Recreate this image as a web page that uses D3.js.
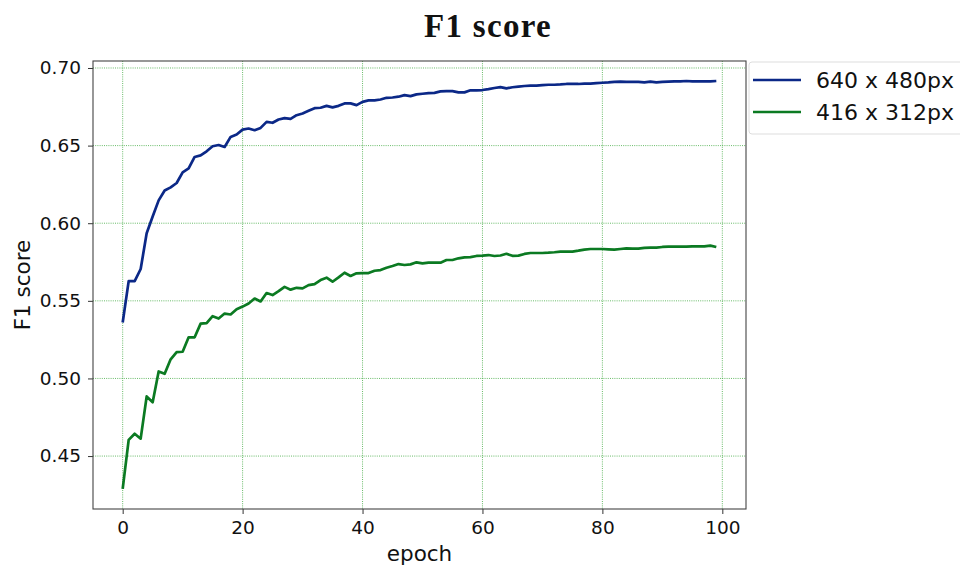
<!DOCTYPE html>
<html>
<head>
<meta charset="utf-8">
<script src="https://cdn.jsdelivr.net/npm/d3@7/dist/d3.min.js"></script>
<style>
  html, body { margin: 0; padding: 0; background: #fff; }
  svg { display: block; }
</style>
</head>
<body>
<div id="chart"></div>
<script>
// Series values (epochs 0..99)
const seriesNames = ["640 x 480px", "416 x 312px"];
const seriesColors = ["#0b2887", "#0b7a22"];

const f1Large = [
  0.536, 0.5627, 0.5627, 0.5705, 0.5935, 0.6043, 0.6147, 0.6211, 0.6231, 0.6259,
  0.6328, 0.6353, 0.6427, 0.6437, 0.6463, 0.6496, 0.6504, 0.6491, 0.6556, 0.6571,
  0.6603, 0.661, 0.6599, 0.6614, 0.6653, 0.6647, 0.6668, 0.6677, 0.6672, 0.6696,
  0.6707, 0.6724, 0.6741, 0.6744, 0.6756, 0.6746, 0.6756, 0.6772, 0.6772, 0.6761,
  0.6782, 0.6791, 0.6791, 0.6797, 0.6808, 0.681, 0.6815, 0.6825, 0.6819, 0.683,
  0.6834, 0.6838, 0.684, 0.6849, 0.6851, 0.6851, 0.6843, 0.6843, 0.6856, 0.6856,
  0.6858, 0.6864, 0.6871, 0.6877, 0.6869, 0.6876, 0.688, 0.6884, 0.6886, 0.6886,
  0.689, 0.6892, 0.6892, 0.6894, 0.6897, 0.6897, 0.6897, 0.6899, 0.6899, 0.6903,
  0.6905, 0.6907, 0.691, 0.6912, 0.691, 0.691, 0.691, 0.6907, 0.6912, 0.6907,
  0.691, 0.6912, 0.6914, 0.6914, 0.6916, 0.6914, 0.6914, 0.6914, 0.6914, 0.6916
];

const f1Small = [
  0.4289, 0.4604, 0.4644, 0.4612, 0.4884, 0.4847, 0.5045, 0.503, 0.5123, 0.517,
  0.5172, 0.5265, 0.5265, 0.5353, 0.5356, 0.5401, 0.5386, 0.5418, 0.5412, 0.5446,
  0.5463, 0.5483, 0.5515, 0.5496, 0.555, 0.5537, 0.5562, 0.559, 0.5572, 0.5584,
  0.558, 0.5601, 0.5608, 0.5634, 0.5649, 0.5623, 0.5651, 0.5681, 0.566, 0.5677,
  0.5679, 0.5679, 0.5694, 0.5698, 0.5713, 0.5724, 0.5737, 0.5731, 0.5735, 0.5748,
  0.5741, 0.5746, 0.5746, 0.5746, 0.5763, 0.5763, 0.5774, 0.578, 0.5782, 0.5789,
  0.5791, 0.5795, 0.5789, 0.5792, 0.5803, 0.579, 0.5791, 0.5802, 0.5808, 0.5808,
  0.5808, 0.581, 0.5813, 0.5817, 0.5817, 0.5817, 0.5823, 0.583, 0.5834, 0.5834,
  0.5834, 0.5832, 0.583, 0.5834, 0.5838, 0.5836, 0.5836, 0.5841, 0.5843, 0.5843,
  0.5847, 0.5849, 0.5849, 0.5849, 0.5849, 0.5851, 0.5851, 0.5851, 0.5856, 0.5847
];

const xTicks = [0, 20, 40, 60, 80, 100];
const yTicks = [0.45, 0.50, 0.55, 0.60, 0.65, 0.70];

const W = 960, H = 566;
const margin = { top: 61, right: 214, bottom: 57, left: 93 };
const width = W - margin.left - margin.right,
      height = H - margin.top - margin.bottom;

const svg = d3.select("#chart").append("svg")
    .attr("width", W)
    .attr("height", H);

const g = svg.append("g")
    .attr("transform", `translate(${margin.left},${margin.top})`);

// Scales (matplotlib-style 5% padding)
const x = d3.scaleLinear().domain([-4.95, 103.95]).range([0, width]);
const y = d3.scaleLinear().domain([0.4159, 0.7045]).range([height, 0]);

// Grid
g.append("g")
    .selectAll("line")
    .data(xTicks)
    .enter().append("line")
    .attr("x1", d => x(d)).attr("x2", d => x(d))
    .attr("y1", 0).attr("y2", height)
    .attr("stroke", "#2ca02c").attr("stroke-opacity", 0.8)
    .attr("stroke-width", 0.9).attr("stroke-dasharray", "1,1.2");

g.append("g")
    .selectAll("line")
    .data(yTicks)
    .enter().append("line")
    .attr("x1", 0).attr("x2", width)
    .attr("y1", d => y(d)).attr("y2", d => y(d))
    .attr("stroke", "#2ca02c").attr("stroke-opacity", 0.8)
    .attr("stroke-width", 0.9).attr("stroke-dasharray", "1,1.2");

// Lines
const line = d3.line()
    .x((d, i) => x(i))
    .y(d => y(d));

[f1Large, f1Small].forEach((data, k) => {
    g.append("path")
        .datum(data)
        .attr("fill", "none")
        .attr("stroke", seriesColors[k])
        .attr("stroke-width", 2.7)
        .attr("stroke-linejoin", "round")
        .attr("d", line);
});

// Axes
const xAxis = g.append("g")
    .attr("transform", `translate(0,${height})`)
    .call(d3.axisBottom(x).tickValues(xTicks).tickSize(5).tickPadding(7).tickFormat(d3.format("d")));

const yAxis = g.append("g")
    .call(d3.axisLeft(y).tickValues(yTicks).tickSize(5).tickPadding(7).tickFormat(d3.format(".2f")));

[xAxis, yAxis].forEach(a => {
    a.select(".domain").remove();
    a.selectAll(".tick line").attr("stroke", "#333").attr("stroke-width", 1);
    a.selectAll(".tick text")
        .attr("fill", "#111")
        .style("font-family", "DejaVu Sans")
        .style("font-size", "18.5px");
});

// Frame
g.append("rect")
    .attr("x", 0).attr("y", 0)
    .attr("width", width).attr("height", height)
    .attr("fill", "none")
    .attr("stroke", "#444")
    .attr("stroke-width", 1.1);

// Axis labels
g.append("text")
    .attr("x", width / 2)
    .attr("y", height + 52)
    .attr("text-anchor", "middle")
    .style("font-family", "DejaVu Sans")
    .style("font-size", "21.5px")
    .attr("fill", "#111")
    .text("epoch");

g.append("text")
    .attr("transform", `translate(${-63},${height / 2}) rotate(-90)`)
    .attr("text-anchor", "middle")
    .style("font-family", "DejaVu Sans")
    .style("font-size", "21.5px")
    .attr("fill", "#111")
    .text("F1 score");

// Title
svg.append("text")
    .attr("x", 488)
    .attr("y", 37)
    .attr("text-anchor", "middle")
    .style("font-family", "Liberation Serif")
    .style("font-weight", "bold")
    .style("font-size", "33px")
    .style("letter-spacing", "1.3px")
    .attr("fill", "#111")
    .text("F1 score");

// Legend
const legend = svg.append("g").attr("transform", "translate(749,62)");
legend.append("rect")
    .attr("x", 0).attr("y", 0)
    .attr("width", 230).attr("height", 72)
    .attr("rx", 3)
    .attr("fill", "#fff").attr("fill-opacity", 0.85)
    .attr("stroke", "#ddd").attr("stroke-width", 1);

seriesNames.forEach((name, k) => {
    const row = legend.append("g").attr("transform", `translate(0,${18 + k * 32})`);
    row.append("line")
        .attr("x1", 4).attr("x2", 52)
        .attr("y1", 0).attr("y2", 0)
        .attr("stroke", seriesColors[k])
        .attr("stroke-width", 2.7);
    row.append("text")
        .attr("x", 67)
        .attr("y", 0)
        .attr("dy", "0.35em")
        .style("font-family", "DejaVu Sans")
        .style("font-size", "22px")
        .attr("fill", "#111")
        .text(name);
});
</script>
</body>
</html>
